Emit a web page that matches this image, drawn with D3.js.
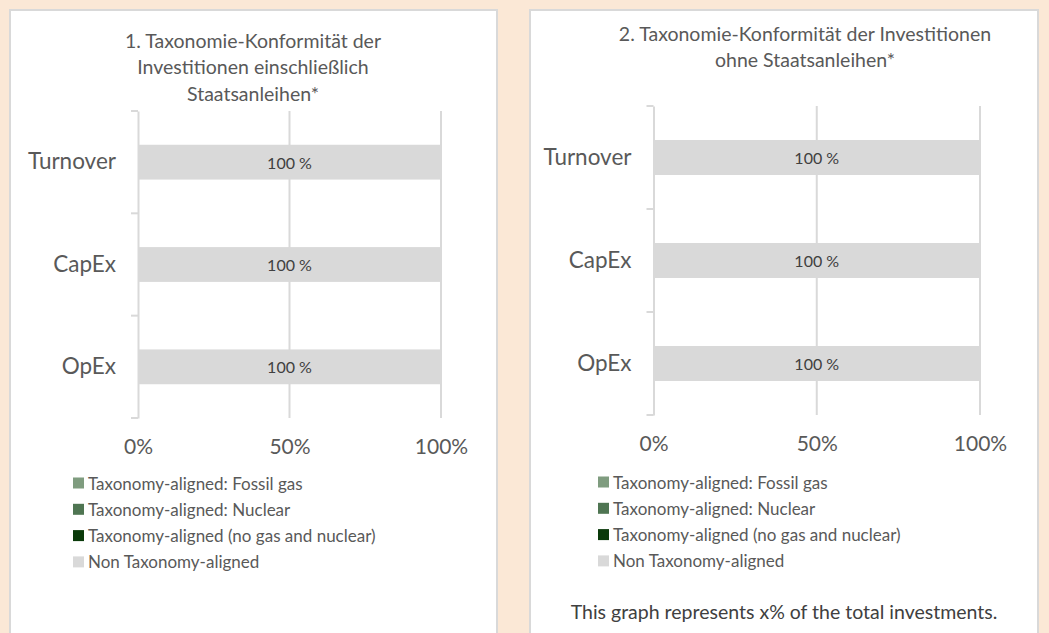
<!DOCTYPE html>
<html>
<head>
<meta charset="utf-8">
<script src="https://cdn.jsdelivr.net/npm/d3@7"></script>
<style>
  body { margin: 0; background: #fbe8d6; }
  text { font-family: Lato, "Liberation Sans", sans-serif; fill: #595959; }
</style>
</head>
<body>
<div id="chart"></div>
<script>
/* Chart data */
const categories = ["Turnover", "CapEx", "OpEx"];
const seriesNames = [
  "Taxonomy-aligned: Fossil gas",
  "Taxonomy-aligned: Nuclear",
  "Taxonomy-aligned (no gas and nuclear)",
  "Non Taxonomy-aligned"
];
const seriesColors = ["#7f9c7f", "#4f7552", "#0a3a0a", "#d9d9d9"];
// values per category, one array per series (in %)
const chart1Values = [[0, 0, 0], [0, 0, 0], [0, 0, 0], [100, 100, 100]];
const chart2Values = [[0, 0, 0], [0, 0, 0], [0, 0, 0], [100, 100, 100]];
const xTicks = [0, 50, 100];
const title1 = ["1. Taxonomie-Konformität der", "Investitionen einschließlich", "Staatsanleihen*"];
const title2 = ["2. Taxonomie-Konformität der Investitionen", "ohne Staatsanleihen*"];
const footnote2 = "This graph represents x% of the total investments.";

const width = 1049, height = 633;

const svg = d3.select("#chart")
  .append("svg")
    .attr("width", width)
    .attr("height", height)
    .attr("viewBox", [0, 0, width, height]);

svg.append("rect")
  .attr("width", width).attr("height", height)
  .attr("fill", "#fbe8d6");

// draw one panel
const drawPanel = (cfg) => {
  const g = svg.append("g");

  // white card
  g.append("rect")
    .attr("x", cfg.box[0]).attr("y", cfg.box[1])
    .attr("width", cfg.box[2]).attr("height", cfg.box[3])
    .attr("fill", "#fff")
    .attr("stroke", "#d9d9d9")
    .attr("stroke-width", 2);

  // title
  g.append("g")
    .selectAll("text")
    .data(cfg.title)
    .join("text")
      .attr("x", cfg.titleX)
      .attr("y", (d, i) => cfg.titleY + i * 26.5)
      .attr("text-anchor", "middle")
      .attr("dominant-baseline", "middle")
      .style("font-size", "19.5px")
      .text(d => d);

  const x = d3.scaleLinear()
    .domain([0, 100])
    .range([cfg.left, cfg.right]);

  const y = d3.scaleBand()
    .domain(categories)
    .range([cfg.top, cfg.bottom])
    .paddingInner(0.66)
    .paddingOuter(0.33);

  // gridlines
  g.append("g")
    .selectAll("line")
    .data(xTicks.slice(1))
    .join("line")
      .attr("x1", d => x(d)).attr("x2", d => x(d))
      .attr("y1", cfg.top).attr("y2", cfg.bottom)
      .attr("stroke", "#d9d9d9")
      .attr("stroke-width", 2);

  // stacked bars
  const rows = categories.map((c, i) => {
    const r = {cat: c};
    seriesNames.forEach((s, j) => r[s] = cfg.values[j][i]);
    return r;
  });
  const stacked = d3.stack().keys(seriesNames)(rows);

  g.append("g")
    .attr("class", "bars")
    .selectAll("g")
    .data(stacked)
    .join("g")
      .attr("fill", (d, i) => seriesColors[i])
    .selectAll("rect")
    .data(d => d)
    .join("rect")
      .attr("x", d => x(d[0]))
      .attr("y", d => y(d.data.cat))
      .attr("width", d => x(d[1]) - x(d[0]))
      .attr("height", y.bandwidth());

  // bar labels
  stacked.forEach(layer => {
    g.append("g")
      .selectAll("text")
      .data(layer.filter(d => d[1] - d[0] > 0))
      .join("text")
        .attr("x", d => x((d[0] + d[1]) / 2))
        .attr("y", d => y(d.data.cat) + y.bandwidth() / 2)
        .attr("text-anchor", "middle")
        .attr("dominant-baseline", "central")
        .style("font-size", "16px")
        .style("fill", "#404040")
        .text(d => `${d[1] - d[0]} %`);
  });

  // y axis
  const yAxis = g.append("g")
    .attr("transform", `translate(${cfg.left},0)`)
    .call(d3.axisLeft(y).tickSize(0).tickPadding(22).tickFormat(d => d));
  yAxis.select(".domain").attr("stroke", "#d9d9d9").attr("stroke-width", 2);
  yAxis.selectAll("text").style("font-size", "22.5px").style("fill", "#595959");

  // small ticks between categories
  const step = (cfg.bottom - cfg.top) / categories.length;
  g.append("g")
    .selectAll("line")
    .data(d3.range(categories.length + 1))
    .join("line")
      .attr("x1", cfg.left - 7).attr("x2", cfg.left)
      .attr("y1", i => cfg.top + i * step).attr("y2", i => cfg.top + i * step)
      .attr("stroke", "#d9d9d9")
      .attr("stroke-width", 2);

  // x axis labels
  const xAxis = g.append("g")
    .attr("transform", `translate(0,${cfg.bottom})`)
    .call(d3.axisBottom(x).tickValues(xTicks).tickSize(0).tickPadding(21).tickFormat(d => d + "%"));
  xAxis.select(".domain").remove();
  xAxis.selectAll("text").style("font-size", "21px").style("fill", "#595959");

  // legend
  const leg = g.append("g")
    .attr("transform", `translate(${cfg.legX},${cfg.legY})`);
  const items = leg.selectAll("g")
    .data(seriesNames)
    .join("g")
      .attr("transform", (d, i) => `translate(0,${i * 26.3})`);
  items.append("rect")
    .attr("x", 0).attr("y", -5.5)
    .attr("width", 11).attr("height", 11)
    .attr("fill", (d, i) => seriesColors[i]);
  items.append("text")
    .attr("x", 15)
    .attr("dominant-baseline", "central")
    .style("font-size", "17px")
    .text(d => d);

  if (cfg.footnote) {
    g.append("text")
      .attr("x", cfg.footX)
      .attr("y", cfg.footY)
      .attr("text-anchor", "middle")
      .attr("dominant-baseline", "central")
      .style("font-size", "19.5px")
      .style("fill", "#404040")
      .text(cfg.footnote);
  }
};

drawPanel({
  box: [10, 10, 487, 640],
  title: title1, titleX: 253, titleY: 43,
  left: 138, right: 441, top: 111, bottom: 418,
  values: chart1Values,
  legX: 73, legY: 483
});

drawPanel({
  box: [530, 10, 508, 640],
  title: title2, titleX: 805, titleY: 36,
  left: 653.5, right: 980, top: 106, bottom: 415,
  values: chart2Values,
  legX: 598, legY: 482,
  footnote: footnote2, footX: 784, footY: 611
});
</script>
</body>
</html>
